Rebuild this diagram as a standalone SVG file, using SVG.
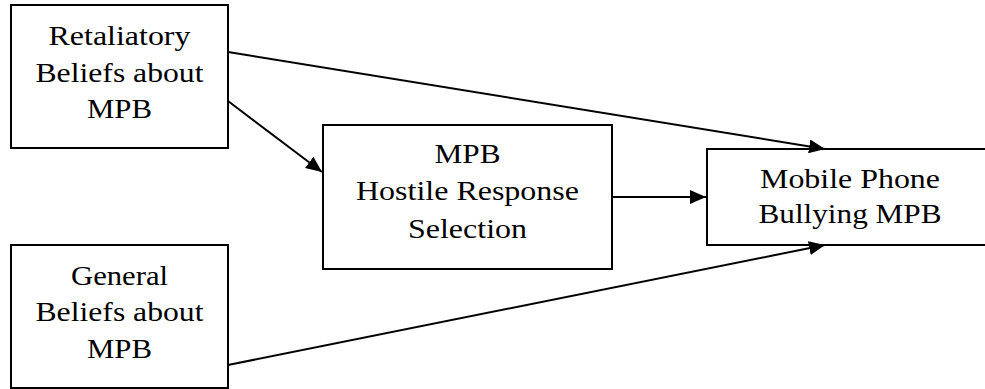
<svg xmlns="http://www.w3.org/2000/svg" width="985" height="389" viewBox="0 0 985 389">
<style>
.box{fill:#fff;stroke:#000;stroke-width:2}
.t{font-family:'Liberation Serif','DejaVu Serif',serif;font-size:28px;fill:#000;text-anchor:middle}
.c{stroke:#000;stroke-width:2;fill:none}
</style>
<defs>
<marker id="ah" markerUnits="userSpaceOnUse" markerWidth="17" markerHeight="14" refX="16" refY="7" orient="auto">
<path d="M0,0 L16,7 L0,14 z" fill="#000"/>
</marker>
</defs>
<rect width="985" height="389" fill="#fff"/>
<g id="n-retaliatory">
<rect class="box" x="11" y="5" width="217" height="143"/>
<text class="t" x="119.5" y="45" textLength="142" lengthAdjust="spacingAndGlyphs">Retaliatory</text>
<text class="t" x="119.5" y="82" textLength="168" lengthAdjust="spacingAndGlyphs">Beliefs about</text>
<text class="t" x="119.5" y="118" textLength="65" lengthAdjust="spacingAndGlyphs">MPB</text>
</g>
<g id="n-general">
<rect class="box" x="11" y="245" width="217" height="143"/>
<text class="t" x="119.5" y="285" textLength="97" lengthAdjust="spacingAndGlyphs">General</text>
<text class="t" x="119.5" y="321" textLength="168" lengthAdjust="spacingAndGlyphs">Beliefs about</text>
<text class="t" x="119.5" y="358" textLength="65" lengthAdjust="spacingAndGlyphs">MPB</text>
</g>
<g id="n-hostile">
<rect class="box" x="323" y="125" width="289" height="144"/>
<text class="t" x="467.5" y="163" textLength="66" lengthAdjust="spacingAndGlyphs">MPB</text>
<text class="t" x="467.5" y="200" textLength="223" lengthAdjust="spacingAndGlyphs">Hostile Response</text>
<text class="t" x="467.5" y="238" textLength="119" lengthAdjust="spacingAndGlyphs">Selection</text>
</g>
<g id="n-mobile">
<rect class="box" x="707" y="149" width="286" height="96"/>
<text class="t" x="850" y="188" textLength="180" lengthAdjust="spacingAndGlyphs">Mobile Phone</text>
<text class="t" x="850" y="223" textLength="183" lengthAdjust="spacingAndGlyphs">Bullying MPB</text>
</g>
<g id="connectors">
<line class="c" x1="228" y1="52" x2="825" y2="149" marker-end="url(#ah)"/>
<line class="c" x1="228" y1="101" x2="322" y2="172" marker-end="url(#ah)"/>
<line class="c" x1="612" y1="197" x2="706" y2="197" marker-end="url(#ah)"/>
<line class="c" x1="228" y1="365" x2="825" y2="245" marker-end="url(#ah)"/>
</g>
</svg>
